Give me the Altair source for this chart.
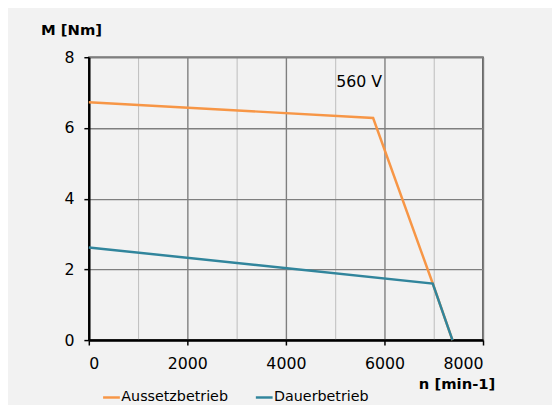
import altair as alt
import pandas as pd

# Aussetzbetrieb (intermittent duty)
aussetz_n = [0, 5770, 6980, 7380]
aussetz_M = [6.73, 6.28, 1.60, 0.0]
# Dauerbetrieb (continuous duty)
dauer_n = [0, 6980, 7380]
dauer_M = [2.62, 1.60, 0.0]

series_names = ["Aussetzbetrieb", "Dauerbetrieb"]
series_colors = ["#f79646", "#31859c"]

x_ticks = [0, 1000, 2000, 3000, 4000, 5000, 6000, 7000, 8000]
y_ticks = [0, 1, 2, 3, 4, 5, 6, 7, 8]

note_text = ["560 V"]
note_n = [5020]
note_M = [7.3]

rows = []
for i, (n, m) in enumerate(zip(aussetz_n, aussetz_M)):
    rows.append({"n": n, "M": m, "Serie": series_names[0], "o": i})
for i, (n, m) in enumerate(zip(dauer_n, dauer_M)):
    rows.append({"n": n, "M": m, "Serie": series_names[1], "o": i})
df = pd.DataFrame(rows)
notes = pd.DataFrame({"n": note_n, "M": note_M, "t": note_text})

FONT = "DejaVu Sans"

x_axis = alt.Axis(
    values=x_ticks, format="d",
    labelExpr="datum.value % 2000 === 0 ? datum.label : ''",
    labelFontSize=16, labelFont=FONT, labelColor="#000000", labelPadding=11,
    tickColor={"condition": {"test": "datum.value % 2000 === 0", "value": "#000000"}, "value": "transparent"},
    tickSize=5, tickWidth=1.5,
    grid=True,
    gridColor={"condition": {"test": "datum.value % 2000 === 0", "value": "#7f7f7f"}, "value": "#bdbdbd"},
    gridWidth={"condition": {"test": "datum.value % 2000 === 0", "value": 1.4}, "value": 1},
    domainColor="#000000", domainWidth=2.5,
    title="n [min-1]", titleFont=FONT, titleFontSize=15, titleFontWeight="bold",
    titleColor="#000000",
    titleAlign="right", titleAnchor="end", titleX=412, titleY=44, titleBaseline="middle",
)
y_axis = alt.Axis(
    values=y_ticks, format="d",
    labelExpr="datum.value % 2 === 0 ? datum.label : ''",
    labelFontSize=16, labelFont=FONT, labelColor="#000000", labelPadding=10,
    tickColor={"condition": {"test": "datum.value % 2 === 0", "value": "#000000"}, "value": "transparent"},
    tickSize=5, tickWidth=1.5,
    grid=True,
    gridColor={"condition": {"test": "datum.value % 2 === 0", "value": "#7f7f7f"}, "value": "#bdbdbd"},
    gridWidth={"condition": {"test": "datum.value % 2 === 0", "value": 1.4}, "value": 1},
    domainColor="#000000", domainWidth=2.5,
    title="M [Nm]", titleFont=FONT, titleFontSize=15, titleFontWeight="bold",
    titleColor="#000000",
    titleAngle=0, titleAlign="left", titleX=-49, titleY=-28, titleBaseline="middle",
)

lines = alt.Chart(df).mark_line(strokeWidth=2.5).encode(
    x=alt.X("n:Q", scale=alt.Scale(domain=[0, 8000], nice=False, zero=False), axis=x_axis),
    y=alt.Y("M:Q", scale=alt.Scale(domain=[0, 8], nice=False), axis=y_axis),
    color=alt.Color(
        "Serie:N",
        scale=alt.Scale(domain=series_names, range=series_colors),
        legend=alt.Legend(
            title=None, orient="none", legendX=13, legendY=335,
            direction="horizontal", symbolType="stroke", symbolSize=289,
            symbolStrokeWidth=2.5, labelFont=FONT, labelFontSize=14.5,
            labelColor="#000000", labelOffset=0, columnPadding=22,
        ),
    ),
    order="o:Q",
)

text = alt.Chart(notes).mark_text(
    align="left", baseline="middle", font=FONT, fontSize=16, color="#000000"
).encode(x="n:Q", y="M:Q", text="t:N")

chart = alt.layer(lines, text).properties(
    width=400, height=287,
    background="#f2f2f2",
    padding={"left": 82, "top": 47, "right": 70, "bottom": 70},
    autosize=alt.AutoSizeParams(type="none"),
).configure_view(
    fill="#f2f2f2", stroke="#333333", strokeWidth=1.5
)

chart.save("out.html", embed_options={"renderer": "svg", "actions": False})
